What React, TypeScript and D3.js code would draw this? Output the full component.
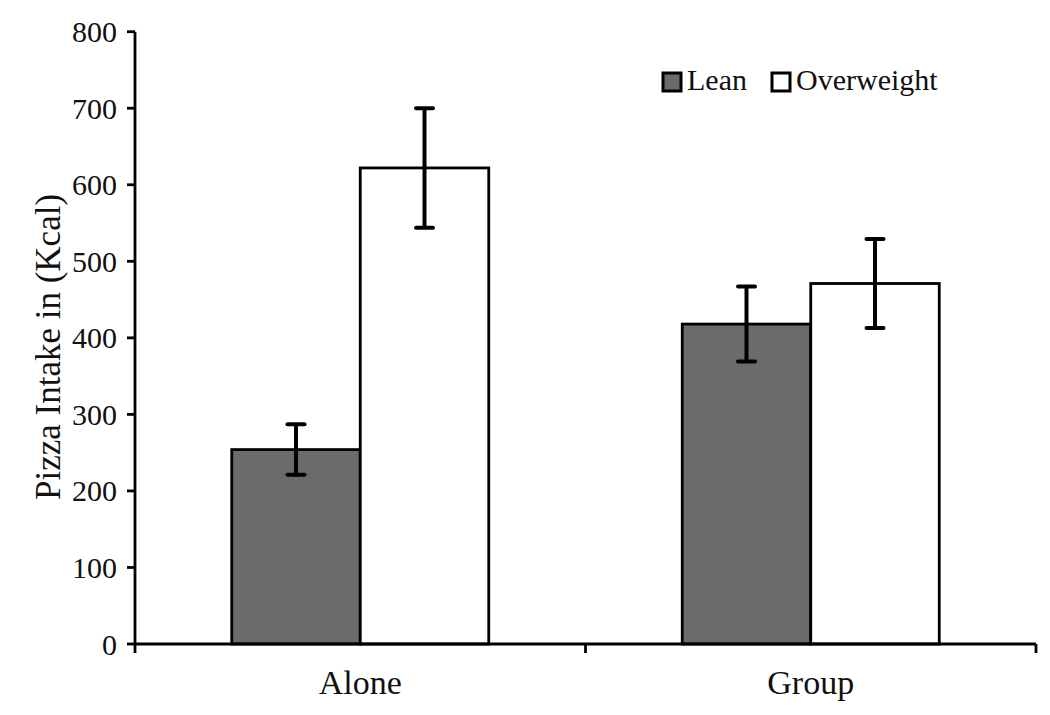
import React from "react";
import * as d3 from "d3";

const categories = ["Alone", "Group"];
const seriesNames = ["Lean", "Overweight"];
const leanMeans = [254, 418];
const leanErr = [33, 49];
const overweightMeans = [622, 471];
const overweightErr = [78, 58];
const yTicks = [0, 100, 200, 300, 400, 500, 600, 700, 800];

const W = 1050;
const H = 715;
const left = 135;
const right = 1036;
const top = 31.7;
const bottom = 644;
const font = "'Liberation Serif', 'Times New Roman', serif";

export default function App() {
  const x = d3.scaleBand<string>().domain(categories).range([left, right]).paddingInner(0).paddingOuter(0);
  const y = d3.scaleLinear().domain([0, 800]).range([bottom, top]);
  const barW = 128.5;
  const series = [
    { name: seriesNames[0], means: leanMeans, errs: leanErr, fill: "#6b6b6b" },
    { name: seriesNames[1], means: overweightMeans, errs: overweightErr, fill: "#ffffff" },
  ];

  return (
    <svg width={W} height={H} style={{ position: "absolute", left: 0, top: 0, background: "#fff" }}>
      {categories.map((c, ci) => {
        const cx = (x(c) as number) + x.bandwidth() / 2;
        return series.map((s, si) => {
          const bx = cx - barW + si * barW;
          return (
            <rect
              key={c + s.name}
              x={bx}
              y={y(s.means[ci])}
              width={barW}
              height={bottom - y(s.means[ci])}
              fill={s.fill}
              stroke="#000"
              strokeWidth={2.8}
            />
          );
        });
      })}
      {categories.map((c, ci) => {
        const cx = (x(c) as number) + x.bandwidth() / 2;
        return series.map((s, si) => {
          const mx = cx - barW / 2 + si * barW;
          const hi = y(s.means[ci] + s.errs[ci]);
          const lo = y(s.means[ci] - s.errs[ci]);
          return (
            <g key={"e" + c + s.name} stroke="#000" strokeWidth={4}>
              <line x1={mx} x2={mx} y1={hi} y2={lo} />
              <line x1={mx - 8.5} x2={mx + 8.5} y1={hi} y2={hi} strokeLinecap="round" />
              <line x1={mx - 8.5} x2={mx + 8.5} y1={lo} y2={lo} strokeLinecap="round" />
            </g>
          );
        });
      })}
      <line x1={left} x2={left} y1={top} y2={bottom + 9} stroke="#000" strokeWidth={2.8} />
      {yTicks.map((t) => (
        <g key={t}>
          <line x1={left - 8} x2={left} y1={y(t)} y2={y(t)} stroke="#000" strokeWidth={2.8} />
          <text
            x={117}
            y={y(t)}
            textAnchor="end"
            dominantBaseline="central"
            fontFamily={font}
            fontSize={30}
            fill="#111"
          >
            {t}
          </text>
        </g>
      ))}
      <line x1={left} x2={right} y1={bottom} y2={bottom} stroke="#000" strokeWidth={2.8} />
      {[...categories.map((c) => x(c) as number).slice(1), right].map((v, i) => (
        <line key={i} x1={v} x2={v} y1={bottom} y2={bottom + 9} stroke="#000" strokeWidth={2.8} />
      ))}
      {categories.map((c) => (
        <text
          key={c}
          x={(x(c) as number) + x.bandwidth() / 2}
          y={694}
          textAnchor="middle"
          fontFamily={font}
          fontSize={34}
          fill="#111"
        >
          {c}
        </text>
      ))}
      <text
        transform={`translate(60, 347) rotate(-90)`}
        textAnchor="middle"
        fontFamily={font}
        fontSize={35}
        fill="#111"
      >
        Pizza Intake in (Kcal)
      </text>
      {series.map((s, i) => {
        const lx = i === 0 ? 662 : 771;
        return (
          <g key={"lg" + s.name}>
            <rect x={lx + 1} y={73} width={18} height={18} fill={s.fill} stroke="#000" strokeWidth={3} />
            <text x={lx + 25} y={90} fontFamily={font} fontSize={30} fill="#111">
              {s.name}
            </text>
          </g>
        );
      })}
    </svg>
  );
}
